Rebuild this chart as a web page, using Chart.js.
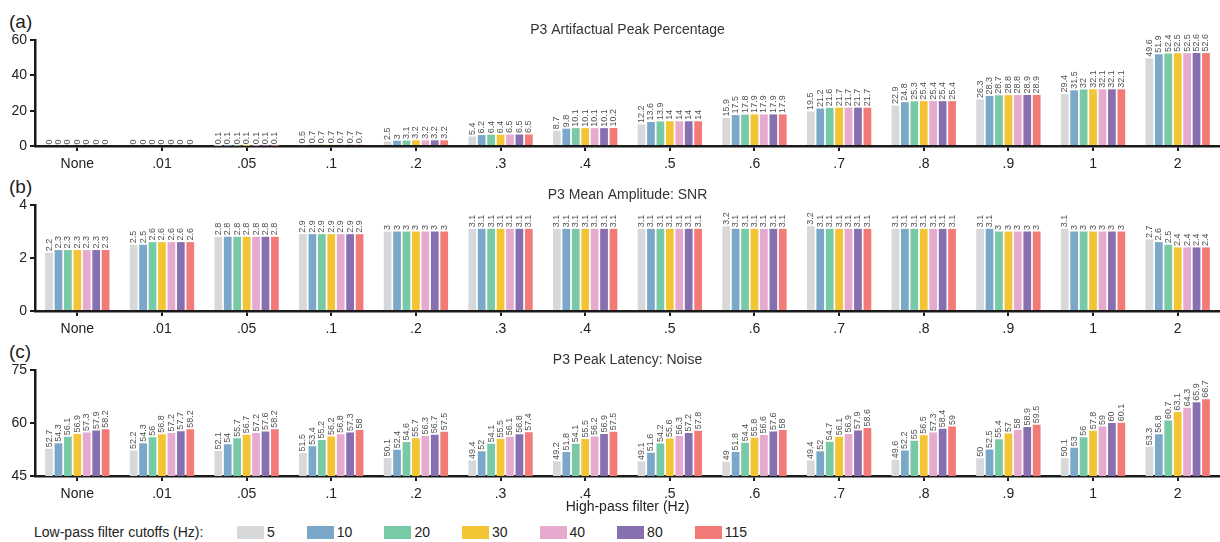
<!DOCTYPE html>
<html>
<head>
<meta charset="utf-8">
<title>P3 filter comparison</title>
<script src="https://cdn.jsdelivr.net/npm/chart.js@4.4.1/dist/chart.umd.min.js"></script>
<style>
    html, body { margin: 0; padding: 0; background: #fff; }
    body {
        width: 1220px; height: 542px; position: relative; overflow: hidden;
        font-family: "Liberation Sans", Arial, Helvetica, sans-serif; color: #222;
    }
    .panel { position: absolute; left: 0; width: 1220px; }
    .tag { position: absolute; left: 9px; font-size: 19px; line-height: 20px; color: #222; }
    .legend {
        position: absolute; left: 34px; top: 524px; height: 16px;
        display: flex; align-items: center; font-size: 14px; line-height: 16px; color: #222;
    }
    .legend .caption { width: 203px; }
    .legend .item { display: flex; align-items: center; margin-right: 32px; }
    .legend .swatch { width: 27px; height: 13px; margin-right: 3px; }
</style>
</head>
<body>

<div class="tag" style="top: 12px;">(a)</div>
<div class="tag" style="top: 177px;">(b)</div>
<div class="tag" style="top: 342px;">(c)</div>

<div class="panel" style="top: 0; height: 175px;"><canvas id="artifactChart"></canvas></div>
<div class="panel" style="top: 165px; height: 175px;"><canvas id="snrChart"></canvas></div>
<div class="panel" style="top: 330px; height: 190px;"><canvas id="latencyChart"></canvas></div>

<div class="legend" id="legend"><span class="caption">Low-pass filter cutoffs (Hz):</span></div>

<script>
// High-pass cutoffs (x categories) and low-pass cutoffs (one bar series each)
const highPassCutoffs = ['None', '.01', '.05', '.1', '.2', '.3', '.4', '.5', '.6', '.7', '.8', '.9', '1', '2'];
const lowPassCutoffs = ['5', '10', '20', '30', '40', '80', '115'];
const lowPassColors = ['#d7d8da', '#7ba7c9', '#78caa6', '#f3c434', '#e6aacf', '#886fb0', '#f27b78'];

// Each row: one high-pass cutoff, values for low-pass 5..115 Hz
const artifactPeakPct = [
    [0, 0, 0, 0, 0, 0, 0],
    [0, 0, 0, 0, 0, 0, 0],
    [0.1, 0.1, 0.1, 0.1, 0.1, 0.1, 0.1],
    [0.5, 0.7, 0.7, 0.7, 0.7, 0.7, 0.7],
    [2.5, 3, 3.1, 3.2, 3.2, 3.2, 3.2],
    [5.4, 6.2, 6.4, 6.4, 6.5, 6.5, 6.5],
    [8.7, 9.8, 10.1, 10.1, 10.1, 10.1, 10.2],
    [12.2, 13.6, 13.9, 14, 14, 14, 14],
    [15.9, 17.5, 17.8, 17.9, 17.9, 17.9, 17.9],
    [19.5, 21.2, 21.6, 21.7, 21.7, 21.7, 21.7],
    [22.9, 24.8, 25.3, 25.4, 25.4, 25.4, 25.4],
    [26.3, 28.3, 28.7, 28.8, 28.8, 28.9, 28.9],
    [29.4, 31.5, 32, 32.1, 32.1, 32.1, 32.1],
    [49.6, 51.9, 52.4, 52.5, 52.5, 52.6, 52.6]
];

const meanAmpSnr = [
    [2.2, 2.3, 2.3, 2.3, 2.3, 2.3, 2.3],
    [2.5, 2.5, 2.6, 2.6, 2.6, 2.6, 2.6],
    [2.8, 2.8, 2.8, 2.8, 2.8, 2.8, 2.8],
    [2.9, 2.9, 2.9, 2.9, 2.9, 2.9, 2.9],
    [3, 3, 3, 3, 3, 3, 3],
    [3.1, 3.1, 3.1, 3.1, 3.1, 3.1, 3.1],
    [3.1, 3.1, 3.1, 3.1, 3.1, 3.1, 3.1],
    [3.1, 3.1, 3.1, 3.1, 3.1, 3.1, 3.1],
    [3.2, 3.1, 3.1, 3.1, 3.1, 3.1, 3.1],
    [3.2, 3.1, 3.1, 3.1, 3.1, 3.1, 3.1],
    [3.1, 3.1, 3.1, 3.1, 3.1, 3.1, 3.1],
    [3.1, 3.1, 3, 3, 3, 3, 3],
    [3.1, 3, 3, 3, 3, 3, 3],
    [2.7, 2.6, 2.5, 2.4, 2.4, 2.4, 2.4]
];

const peakLatencyNoise = [
    [52.7, 54.3, 56.1, 56.9, 57.3, 57.9, 58.2],
    [52.2, 54.3, 56, 56.8, 57.2, 57.7, 58.2],
    [52.1, 54, 55.7, 56.7, 57.2, 57.6, 58.2],
    [51.5, 53.4, 55.2, 56.2, 56.8, 57.3, 58],
    [50.1, 52.4, 54.6, 55.7, 56.3, 56.7, 57.5],
    [49.4, 52, 54.1, 55.5, 56.1, 56.8, 57.4],
    [49.2, 51.8, 54.1, 55.5, 56.2, 56.9, 57.5],
    [49.1, 51.6, 54.2, 55.6, 56.3, 57.2, 57.8],
    [49, 51.8, 54.4, 55.8, 56.6, 57.6, 58],
    [49.4, 52, 54.7, 56.1, 56.9, 57.9, 58.6],
    [49.6, 52.2, 55, 56.5, 57.3, 58.4, 59],
    [50, 52.5, 55.4, 57, 58, 58.9, 59.5],
    [50.1, 53, 56, 57.8, 59, 60, 60.1],
    [53.3, 56.8, 60.7, 63.1, 64.3, 65.9, 66.7]
];

const artifactTicks = [0, 20, 40, 60];
const snrTicks = [0, 2, 4];
const latencyTicks = [45, 60, 75];

Chart.defaults.font.family = '"Liberation Sans", Arial, Helvetica, sans-serif';
Chart.defaults.color = '#222';

const axisColor = '#1a1a1a';

// Vertical value text above every bar
const barValueLabels = {
    id: 'barValueLabels',
    afterDatasetsDraw(chart) {
        const ctx = chart.ctx;
        ctx.save();
        ctx.font = '9px "Liberation Sans", Arial, sans-serif';
        ctx.fillStyle = '#505050';
        ctx.textAlign = 'left';
        ctx.textBaseline = 'middle';
        chart.data.datasets.forEach((ds, i) => {
            chart.getDatasetMeta(i).data.forEach((bar, j) => {
                ctx.save();
                ctx.translate(bar.x, bar.y - 1.5);
                ctx.rotate(-Math.PI / 2);
                ctx.fillText(String(ds.data[j]), 0, 0);
                ctx.restore();
            });
        });
        ctx.restore();
    }
};

function createPanel(canvasId, titleText, rows, tickValues, axisTitle) {
    const datasets = lowPassCutoffs.map((hz, s) => ({
        label: hz,
        data: rows.map(row => row[s]),
        backgroundColor: lowPassColors[s],
        borderWidth: 0,
        barPercentage: 0.82,
        categoryPercentage: 0.78
    }));

    return new Chart(document.getElementById(canvasId), {
        type: 'bar',
        data: { labels: highPassCutoffs, datasets: datasets },
        options: {
            responsive: true,
            maintainAspectRatio: false,
            animation: false,
            layout: { padding: 0 },
            plugins: {
                legend: { display: false },
                tooltip: { enabled: false },
                title: {
                    display: true,
                    text: titleText,
                    fullSize: false,
                    color: '#333',
                    font: { size: 14, weight: 'normal' },
                    padding: { top: 21.6, bottom: 1.6 }
                }
            },
            scales: {
                x: {
                    grid: {
                        display: true,
                        drawOnChartArea: false,
                        offset: false,
                        color: axisColor,
                        tickColor: axisColor,
                        lineWidth: 2,
                        tickLength: 5
                    },
                    border: { display: true, color: axisColor, width: 2.5 },
                    ticks: { color: '#222', font: { size: 14 }, padding: 5, maxRotation: 0, autoSkip: false },
                    title: {
                        display: !!axisTitle,
                        text: axisTitle || '',
                        color: '#222',
                        font: { size: 14 },
                        padding: { top: 0, bottom: 4 }
                    },
                    afterFit: scale => { scale.height = axisTitle ? 44 : 29; }
                },
                y: {
                    min: tickValues[0],
                    max: tickValues[tickValues.length - 1],
                    afterBuildTicks: scale => { scale.ticks = tickValues.map(v => ({ value: v })); },
                    grid: {
                        display: true,
                        drawOnChartArea: false,
                        color: axisColor,
                        tickColor: axisColor,
                        lineWidth: 2,
                        tickLength: 5
                    },
                    border: { display: true, color: axisColor, width: 2.5 },
                    ticks: { color: '#222', font: { size: 14 }, padding: 3 },
                    afterFit: scale => { scale.width = 35; }
                }
            }
        },
        plugins: [barValueLabels]
    });
}

createPanel('artifactChart', 'P3 Artifactual Peak Percentage', artifactPeakPct, artifactTicks);
createPanel('snrChart', 'P3 Mean Amplitude: SNR', meanAmpSnr, snrTicks);
createPanel('latencyChart', 'P3 Peak Latency: Noise', peakLatencyNoise, latencyTicks, 'High-pass filter (Hz)');

// Shared legend under the last panel
const legend = document.getElementById('legend');
lowPassCutoffs.forEach((hz, i) => {
    const item = document.createElement('span');
    item.className = 'item';
    item.innerHTML = `<span class="swatch" style="background:${lowPassColors[i]}"></span><span>${hz}</span>`;
    legend.appendChild(item);
});
</script>
</body>
</html>
